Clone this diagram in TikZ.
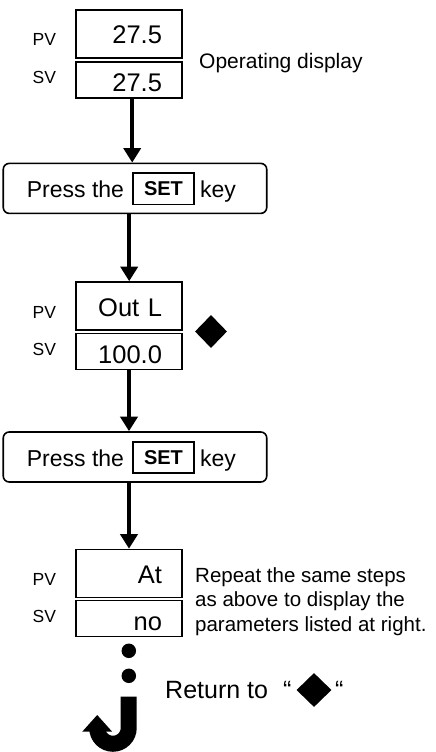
\documentclass[tikz,border=0pt]{standalone}
\usepackage{fontspec}
\setmainfont{Liberation Sans}
\usetikzlibrary{arrows.meta,shapes.geometric}
\begin{document}
\begin{tikzpicture}[x=1pt,y=1pt,
  disp/.style={draw, line width=1.6pt, minimum width=106pt, text width=66pt, inner xsep=20pt, inner ysep=0pt, align=right, font=\fontsize{25.5}{25.5}\selectfont, text depth=0pt},
  pvbox/.style={disp, minimum height=48pt, text height=20pt},
  svbox/.style={disp, minimum height=36pt, text height=23pt},
  lbl/.style={anchor=base west, inner sep=0pt, font=\fontsize{17.5}{17.5}\selectfont},
  pressbox/.style={draw, line width=1.6pt, rounded corners=6pt, minimum width=263.5pt, minimum height=50pt, inner sep=0pt},
  ptxt/.style={anchor=base west, inner sep=0pt, font=\fontsize{23}{23}\selectfont},
  setkey/.style={draw, line width=1.6pt, minimum width=61.5pt, minimum height=31.5pt, inner sep=0pt, font=\bfseries\fontsize{20}{20}\selectfont},
  arr/.style={line width=4.5pt, -{Triangle[width=17pt,length=14.5pt]}},
  diam/.style={diamond, fill=black, inner sep=0pt, minimum width=32pt, minimum height=33pt},
  dot/.style={circle, fill=black, inner sep=0pt, minimum size=14.5pt},
  note/.style={anchor=base west, inner sep=0pt, font=\fontsize{21}{21}\selectfont},
  rtxt/.style={anchor=base west, inner sep=0pt, font=\fontsize{25}{25}\selectfont}
]
\useasboundingbox (0,0) rectangle (436,-752);

% first display
\node[pvbox] (pv1) at (129,-34) {27.5};
\node[svbox] (sv1) at (129,-80) {27.5};
\node[lbl] (pvl1) at ([xshift=-96.5pt,yshift=-12pt]pv1.center) {PV};
\node[lbl] (svl1) at ([xshift=-96.5pt,yshift=-4pt]sv1.center) {SV};
\node[note] (op) at (199,-68) {Operating display};

% first press
\node[pressbox] (press1) at (135,-188.4) {};
\node[ptxt] (pt1) at ([xshift=-108.3pt,yshift=-9.3pt]press1.center) {Press the};
\node[setkey] (set1) at ([xshift=28.5pt,yshift=-0.5pt]press1.center) {SET};
\node[ptxt] (key1) at ([xshift=65pt,yshift=-9.3pt]press1.center) {key};

% second display
\node[pvbox] (pv2) at (129,-306) {Out L};
\node[svbox] (sv2) at (129,-351.5) {100.0};
\node[lbl] (pvl2) at ([xshift=-96.5pt,yshift=-12pt]pv2.center) {PV};
\node[lbl] (svl2) at ([xshift=-96.5pt,yshift=-4pt]sv2.center) {SV};
\node[diam] (dm1) at (211,-331.5) {};

% second press
\node[pressbox] (press2) at (135,-457) {};
\node[ptxt] (pt2) at ([xshift=-108.3pt,yshift=-9.3pt]press2.center) {Press the};
\node[setkey] (set2) at ([xshift=28.5pt,yshift=-0.5pt]press2.center) {SET};
\node[ptxt] (key2) at ([xshift=65pt,yshift=-9.3pt]press2.center) {key};

% third display
\node[pvbox] (pv3) at (129,-573.5) {At};
\node[svbox] (sv3) at (129,-618.5) {no};
\node[lbl] (pvl3) at ([xshift=-96.5pt,yshift=-12pt]pv3.center) {PV};
\node[lbl] (svl3) at ([xshift=-96.5pt,yshift=-4pt]sv3.center) {SV};
\node[anchor=base west, inner sep=0pt, align=left, font=\fontsize{20.5}{24.5}\selectfont] (rep) at (195,-631)
  {Repeat the same steps\\as above to display the\\parameters listed at right.};

% arrows
\draw[arr] ([xshift=3.2pt]sv1.south) -- ([xshift=-2.8pt]press1.north);
\draw[arr] ([xshift=-5.8pt]press1.south) -- ([xshift=0.2pt]pv2.north);
\draw[arr] (sv2.south) -- ([xshift=-6pt]press2.north);
\draw[arr] ([xshift=-6pt]press2.south) -- (pv3.north);

% dots and return
\node[dot] (d1) at (128.8,-650.8) {};
\node[dot] (d2) at (128.8,-675.8) {};
\node[rtxt] (ret) at (165,-698) {Return to};
\node[rtxt] (q1) at (283,-698) {“};
\node[diam, minimum width=35pt, minimum height=34pt] (dm2) at (314,-690) {};
\node[rtxt] (q2) at (335,-698) {“};

% hook arrow
\coordinate (jtop) at (128.7,-696.7);
\coordinate (jbend) at (128.7,-728);
\draw[line width=16pt] (jtop) -- (jbend) arc[start angle=0,end angle=-180,radius=15.75pt] coordinate (jend);
\fill (82.2,-731.7) -- (112.2,-731.7) -- (97.2,-715) -- cycle;
\end{tikzpicture}
\end{document}
